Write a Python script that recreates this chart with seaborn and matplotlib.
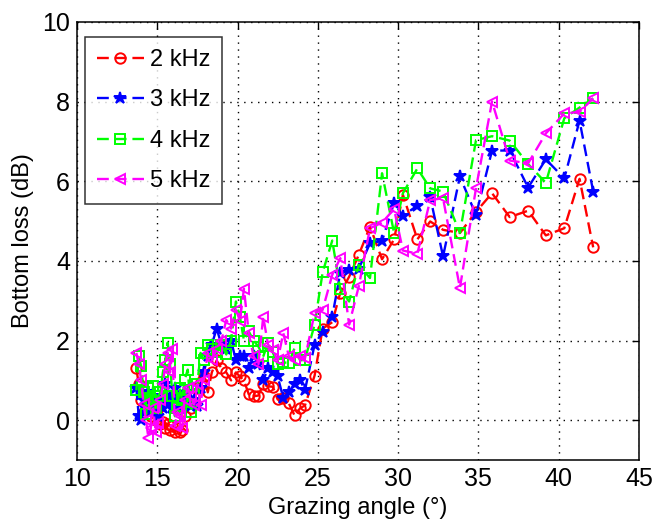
import matplotlib
matplotlib.use('Agg')
import matplotlib.pyplot as plt
import seaborn as sns
import pandas as pd

# grazing angles (deg), shared by all four frequencies
angles = [13.7, 13.85, 14.0, 14.15, 14.3, 14.45, 14.6, 14.75, 14.9, 15.05,
          15.2, 15.35, 15.5, 15.65, 15.8, 15.95, 16.1, 16.25, 16.4, 16.55,
          16.7, 16.9, 17.1, 17.3, 17.5, 17.7, 17.9, 18.15, 18.4, 18.7,
          19.0, 19.3, 19.6, 19.9, 20.15, 20.4, 20.7, 21.0, 21.3, 21.6,
          21.9, 22.2, 22.5, 22.85, 23.2, 23.55, 23.9, 24.2, 24.8, 25.3,
          25.9, 26.4, 26.95, 27.55, 28.25, 29.0, 29.75, 30.3, 31.2, 32.0,
          32.8, 33.85, 34.85, 35.85, 36.95, 38.1, 39.2, 40.35, 41.3, 42.15]

loss_2k = [1.3, 0.9, 0.5, 0.2, 0.6, 0.3, 0.1, 0.4, 0.0, 0.3,
           -0.1, -0.05, -0.2, -0.1, -0.25, -0.15, -0.3, -0.2, -0.3, -0.25,
           0.1, 0.5, 0.3, 0.6, 0.8, 0.95, 1.1, 0.7, 1.2, 1.5,
           1.3, 1.2, 1.0, 1.2, 1.1, 1.0, 0.65, 0.6, 0.62, 0.9,
           0.85, 0.84, 0.52, 0.55, 0.42, 0.12, 0.3, 0.37, 1.12, 2.3,
           2.46, 3.2, 3.6, 4.15, 4.86, 4.04, 4.54, 5.66, 4.54, 4.99,
           4.78, 4.7, 5.23, 5.7, 5.1, 5.26, 4.64, 4.82, 6.06, 4.34]

loss_3k = [0.8, 0.1, 0.0, 0.5, 0.3, 0.7, 0.2, 0.6, 0.3, 0.1,
           0.5, 0.3, 0.9, 0.4, 0.6, 0.3, 0.8, 0.5, 0.3, 0.6,
           0.4, 0.7, 0.35, 0.5, 0.35, 0.8, 1.2, 1.6, 1.9, 2.3,
           1.9, 1.8, 2.0, 1.5, 1.6, 1.6, 1.3, 1.6, 1.4, 1.0,
           1.3, 1.2, 1.1, 0.56, 0.7, 0.9, 1.0, 0.75, 1.9, 2.22,
           2.6, 3.7, 3.78, 3.8, 4.44, 4.5, 5.46, 5.13, 5.39, 5.6,
           4.11, 6.12, 5.15, 6.77, 6.77, 5.84, 6.55, 6.07, 7.52, 5.74]

loss_4k = [0.75, 1.6, 1.35, 0.7, 0.15, 0.8, 0.5, 0.85, 0.3, 0.6,
           0.7, 1.2, 1.5, 1.95, 1.4, 0.6, 0.1, 0.3, 0.8, 0.5,
           1.0, 1.27, 0.2, 0.6, 0.9, 1.69, 1.5, 1.9, 1.8, 1.7,
           1.9, 1.65, 2.0, 2.98, 2.6, 2.0, 2.23, 2.0, 1.85, 1.6,
           1.94, 1.7, 1.4, 1.45, 1.44, 1.81, 1.5, 1.52, 2.4, 3.71,
           4.51, 3.29, 2.98, 3.9, 3.57, 6.2, 4.7, 5.7, 6.32, 5.82,
           5.74, 4.7, 7.03, 7.13, 7.02, 6.43, 5.96, 7.58, 7.85, 8.08]

loss_5k = [1.69, 1.4, 1.0, 0.4, 0.0, -0.44, -0.2, 0.3, -0.3, -0.07,
           0.5, 0.9, 1.4, 1.69, 1.2, 1.8, -0.15, 0.2, 0.1, -0.2,
           0.5, 0.8, 0.6, 0.39, 0.9, 0.39, 1.0, 1.69, 1.5, 1.8,
           2.0, 2.52, 2.3, 2.77, 2.5, 3.3, 2.19, 1.6, 1.4, 2.6,
           1.9, 1.77, 1.5, 2.19, 1.6, 1.52, 1.6, 1.55, 2.69, 2.77,
           3.65, 4.07, 2.4, 3.36, 4.82, 4.96, 5.3, 4.26, 4.18, 5.53,
           5.57, 3.32, 5.82, 8.0, 6.52, 6.45, 7.2, 7.7, 7.74, 8.08]

labels = ['2 kHz', '3 kHz', '4 kHz', '5 kHz']
series = [loss_2k, loss_3k, loss_4k, loss_5k]
colors = ['#ff0000', '#0000ff', '#00ff00', '#ff00ff']
markers = ['o', '*', 's', '<']

sns.set_style('white')
plt.rcParams['font.family'] = ['Liberation Sans', 'DejaVu Sans']
plt.rcParams['text.color'] = 'black'
plt.rcParams['axes.labelcolor'] = 'black'

fig = plt.figure(figsize=(6.52, 5.21), dpi=100)
ax = fig.add_axes([0.118, 0.117, 0.862, 0.841])

for lab, vals, col, mk in zip(labels, series, colors, markers):
    df = pd.DataFrame({'angle': angles, 'loss': vals})
    filled = mk == '*'
    sns.lineplot(data=df, x='angle', y='loss', ax=ax, sort=False, estimator=None,
                 color=col, linestyle=(0, (5, 2.5)), linewidth=1.7,
                 marker=mk, markersize=9 if filled else 7.5,
                 markerfacecolor=col if filled else 'none',
                 markeredgecolor=col, markeredgewidth=1.4, label=lab)

ax.set_xlim(10, 45)
ax.set_ylim(-1, 10)
ax.set_xticks(range(10, 46, 5))
ax.set_yticks(range(0, 11, 2))
ax.grid(True, color='black', linestyle=(0, (1, 4)), linewidth=1.0)
ax.tick_params(direction='in', top=True, right=True, labelsize=18, length=5,
               width=1, colors='black', pad=5)
for sp in ax.spines.values():
    sp.set_color('black')
    sp.set_linewidth(1.1)

ax.set_xlabel('Grazing angle (°)', fontsize=17, labelpad=4)
ax.set_ylabel('Bottom loss (dB)', fontsize=17, labelpad=6)

leg = ax.legend(loc='upper left', fontsize=17, handlelength=2.0,
                frameon=True, fancybox=False, edgecolor='black',
                borderpad=0.5, labelspacing=0.78, handletextpad=0.25,
                borderaxespad=0, bbox_to_anchor=(0.014, 0.965))
leg.get_frame().set_linewidth(1.1)
for t in leg.get_texts():
    t.set_color('black')

fig.savefig('out.png', dpi=100)
